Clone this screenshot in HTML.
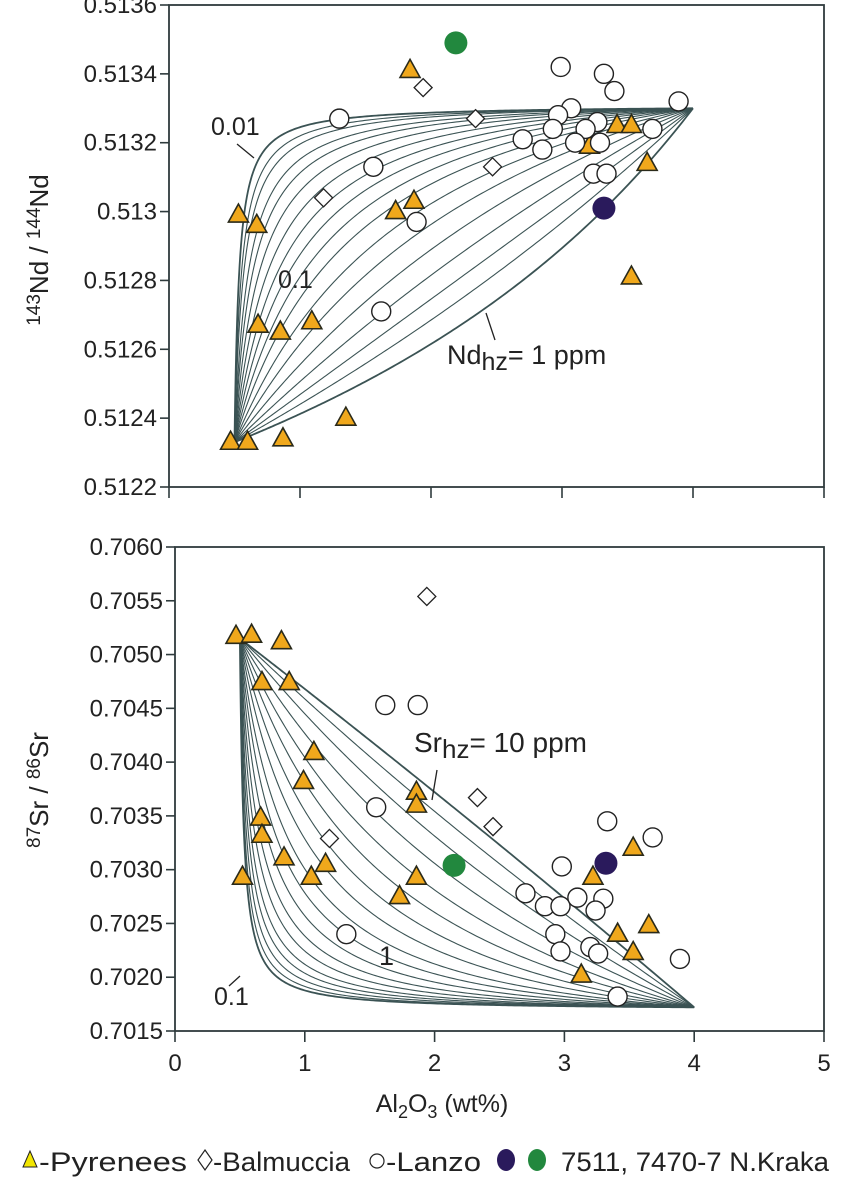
<!DOCTYPE html>
<html><head><meta charset="utf-8"><style>
html,body{margin:0;padding:0;background:#fff}
svg{display:block;font-family:"Liberation Sans",sans-serif}
</style></head><body>
<svg id="chart" width="861" height="1182" viewBox="0 0 861 1182" xmlns="http://www.w3.org/2000/svg"></svg>
<script>
// ---- data: top panel (143Nd/144Nd vs Al2O3) ----
const ndPyrX=[1.84,0.53,0.67,0.68,0.85,1.09,1.73,1.87,0.47,0.60,0.87,1.35,3.42,3.53,3.21,3.65,3.53];
const ndPyrY=[0.51341,0.51299,0.51296,0.51267,0.51265,0.51268,0.51300,0.51303,0.51233,0.51233,0.51234,0.51240,0.51325,0.51325,0.51319,0.51314,0.51281];
const ndBalX=[1.94,2.34,2.47,1.18];
const ndBalY=[0.51336,0.51327,0.51313,0.51304];
const ndLanX=[1.30,1.56,1.89,1.62,2.99,3.32,3.40,3.07,2.97,3.27,2.93,3.18,2.70,2.85,3.10,3.29,3.24,3.34,3.69,3.89];
const ndLanY=[0.51327,0.51313,0.51297,0.51271,0.51342,0.51340,0.51335,0.51330,0.51328,0.51326,0.51324,0.51324,0.51321,0.51318,0.51320,0.51320,0.51311,0.51311,0.51324,0.51332];
const ndKrakaX=[3.32,2.19];
const ndKrakaY=[0.51301,0.51349];
const ndEndA=[0.5,0.51233], ndEndB=[4,0.51330];
const ndRatios=[0.01,0.015,0.02,0.03,0.04,0.055,0.075,0.1,0.13,0.17,0.22,0.3,0.4,0.55,0.75,1.0,1.3,1.8];
const ndTicks=[0.5136,0.5134,0.5132,0.513,0.5128,0.5126,0.5124,0.5122];
const ndTickLabels=["0.5136","0.5134","0.5132","0.513","0.5128","0.5126","0.5124","0.5122"];
// ---- data: bottom panel (87Sr/86Sr vs Al2O3) ----
const srPyrX=[0.47,0.59,0.82,0.67,0.88,1.07,0.99,0.66,0.67,0.84,1.16,0.52,1.05,1.86,1.86,1.86,1.73,3.53,3.22,3.65,3.41,3.53,3.13];
const srPyrY=[0.70517,0.70518,0.70512,0.70474,0.70474,0.70409,0.70382,0.70348,0.70332,0.70311,0.70305,0.70293,0.70293,0.70372,0.70360,0.70293,0.70275,0.70320,0.70293,0.70248,0.70240,0.70223,0.70202];
const srBalX=[1.94,1.19,2.33,2.45];
const srBalY=[0.70554,0.70329,0.70367,0.70340];
const srLanX=[1.62,1.87,1.55,1.32,3.33,3.68,2.98,2.70,2.85,2.97,3.10,3.30,3.24,2.93,2.97,3.20,3.26,3.89,3.41];
const srLanY=[0.70453,0.70453,0.70358,0.70240,0.70345,0.70330,0.70303,0.70278,0.70266,0.70266,0.70274,0.70273,0.70262,0.70240,0.70224,0.70228,0.70222,0.70217,0.70182];
const srKrakaX=[3.32,2.15];
const srKrakaY=[0.70306,0.70304];
const srEndA=[0.5,0.70515], srEndB=[4,0.70172];
const srRatios=[0.008,0.01,0.013,0.017,0.022,0.03,0.04,0.055,0.075,0.1,0.14,0.19,0.26,0.35,0.48,0.65,0.85,1.05];
const srTicks=[0.706,0.7055,0.705,0.7045,0.704,0.7035,0.703,0.7025,0.702,0.7015];
const srTickLabels=["0.7060","0.7055","0.7050","0.7045","0.7040","0.7035","0.7030","0.7025","0.7020","0.7015"];
const xTicks=[0,1,2,3,4,5];
const xTickLabels=["0","1","2","3","4","5"];

const NS="http://www.w3.org/2000/svg";
const svg=document.getElementById('chart');
function mk(tag,attrs,parent){const e=document.createElementNS(NS,tag);for(const k in attrs)e.setAttribute(k,attrs[k]);(parent||svg).appendChild(e);return e;}

function panel(cfg){
  const g=mk('g',{});
  
  
  const sx=v=>cfg.x0+(v-0)/5*(cfg.x1-cfg.x0);
  const sy=v=>cfg.y0+(cfg.ymax-v)/(cfg.ymax-cfg.ymin)*(cfg.y1-cfg.y0);
  const cg=mk('g',{},g);
  
  
  cfg.ratios.forEach(r=>{
    let d='';
    for(let i=0;i<=200;i++){
      const f=Math.pow(i/200,1.6);
      const x=cfg.A[0]+f*(cfg.B[0]-cfg.A[0]);
      const w=f/(f+(1-f)*r);
      const y=cfg.A[1]+w*(cfg.B[1]-cfg.A[1]);
      d+=(i?'L':'M')+sx(x).toFixed(2)+','+sy(y).toFixed(2);
    }
    const p=mk('path',{d:d,fill:'none',stroke:'#3b5354','stroke-width':(r===cfg.ratios[0]||r===cfg.ratios[cfg.ratios.length-1])?1.8:1.1},cg);
    
    
  });
  const fr=mk('rect',{x:cfg.x0,y:cfg.y0,width:cfg.x1-cfg.x0,height:cfg.y1-cfg.y0,fill:'none',stroke:'#2f3b3d','stroke-width':1.8},g);
  
  
  cfg.yt.forEach((v,i)=>{
    const y=sy(v);
    const t=mk('line',{x1:cfg.x0-9,x2:cfg.x0,y1:y,y2:y,stroke:'#2f3b3d','stroke-width':1.6},g);
    
    
    const l=mk('text',{x:cfg.x0-12,y:y+8,'text-anchor':'end','font-size':24,fill:'#222'},g);
    l.textContent=cfg.ytl[i];
    
    
  });
  xTicks.forEach((v,i)=>{
    const x=sx(v);
    const t=mk('line',{x1:x,x2:x,y1:cfg.y1,y2:cfg.y1+11,stroke:'#2f3b3d','stroke-width':1.6},g);
    
    
    if(cfg.xlabels){
      const l=mk('text',{x:x,y:cfg.y1+40,'text-anchor':'middle','font-size':24,fill:'#222'},g);
      l.textContent=xTickLabels[i];
      
      
    }
  });
  const tri=(xs,ys)=>xs.forEach((v,i)=>{const x=sx(v),y=sy(ys[i]);
    const p=mk('polygon',{points:`${x},${y-11} ${x-10},${y+7} ${x+10},${y+7}`,fill:'#f0a81c',stroke:'#2a2a1a','stroke-width':1.6},g);
    
    });
  const dia=(xs,ys)=>xs.forEach((v,i)=>{const x=sx(v),y=sy(ys[i]);
    const p=mk('polygon',{points:`${x},${y-9} ${x+9},${y} ${x},${y+9} ${x-9},${y}`,fill:'#fff',stroke:'#222','stroke-width':1.3},g);
    
    });
  const cir=(xs,ys)=>xs.forEach((v,i)=>{
    const p=mk('circle',{cx:sx(v),cy:sy(ys[i]),r:9.5,fill:'#fff',stroke:'#222','stroke-width':1.4},g);
    
    });
  tri(cfg.pyrX,cfg.pyrY); dia(cfg.balX,cfg.balY); cir(cfg.lanX,cfg.lanY);
  const kc=['#2a1a5c','#22883e'];
  cfg.krX.forEach((v,i)=>{
    const p=mk('circle',{cx:sx(v),cy:sy(cfg.krY[i]),r:11.5,fill:kc[i]},g);
    
    
  });
  return g;
}
panel({name:'nd-panel',x0:169,x1:824,y0:5,y1:487,ymax:0.5136,ymin:0.5122,A:ndEndA,B:ndEndB,ratios:ndRatios,yt:ndTicks,ytl:ndTickLabels,xlabels:false,
  pyrX:ndPyrX,pyrY:ndPyrY,balX:ndBalX,balY:ndBalY,lanX:ndLanX,lanY:ndLanY,krX:ndKrakaX,krY:ndKrakaY});
panel({name:'sr-panel',x0:175,x1:824,y0:547,y1:1031,ymax:0.706,ymin:0.7015,A:srEndA,B:srEndB,ratios:srRatios,yt:srTicks,ytl:srTickLabels,xlabels:true,
  pyrX:srPyrX,pyrY:srPyrY,balX:srBalX,balY:srBalY,lanX:srLanX,lanY:srLanY,krX:srKrakaX,krY:srKrakaY});
</script>
<div style="position:absolute;left:0;top:0;width:861px;height:1182px;pointer-events:none">
<svg width="861" height="1182" xmlns="http://www.w3.org/2000/svg" style="position:absolute;left:0;top:0">
  <g font-family="Liberation Sans, sans-serif" fill="#222">
    <text x="211" y="135" font-size="25">0.01</text>
    <line x1="237" y1="144" x2="254" y2="158" stroke="#222" stroke-width="1.3"/>
    <text x="278" y="288" font-size="25">0.1</text>
    <line x1="495" y1="340" x2="486" y2="313" stroke="#222" stroke-width="1.3"/>
    <text x="447" y="364" font-size="27">Nd<tspan font-size="25" dy="6">hz</tspan><tspan dy="-6">= 1 ppm</tspan></text>
    <text x="414" y="752" font-size="28">Sr<tspan font-size="26" dy="6">hz</tspan><tspan dy="-6">= 10 ppm</tspan></text>
    <line x1="437" y1="770" x2="432" y2="800" stroke="#222" stroke-width="1.3"/>
    <text x="379" y="965" font-size="27">1</text>
    <text x="214" y="1005" font-size="25">0.1</text>
    <line x1="229" y1="986" x2="240" y2="976" stroke="#222" stroke-width="1.3"/>
    <text transform="translate(48,250) rotate(-90)" text-anchor="middle" font-size="26"><tspan font-size="19" dy="-8">143</tspan><tspan dy="8">Nd / </tspan><tspan font-size="19" dy="-8">144</tspan><tspan dy="8">Nd</tspan></text>
    <text transform="translate(48,790) rotate(-90)" text-anchor="middle" font-size="26"><tspan font-size="19" dy="-8">87</tspan><tspan dy="8">Sr / </tspan><tspan font-size="19" dy="-8">86</tspan><tspan dy="8">Sr</tspan></text>
    <text x="442" y="1112" text-anchor="middle" font-size="25">Al<tspan font-size="18" dy="6">2</tspan><tspan dy="-6">O</tspan><tspan font-size="18" dy="6">3</tspan><tspan dy="-6"> (wt%)</tspan></text>
  </g>
  <g font-family="Liberation Sans, sans-serif" font-size="27" fill="#222">
    <polygon points="30,1151 23,1167 37,1167" fill="#f2e600" stroke="#222" stroke-width="1"/>
    <text x="39" y="1171" textLength="148" lengthAdjust="spacingAndGlyphs">-Pyrenees</text>
    <polygon points="205,1150 212,1160 205,1170 198,1160" fill="#fff" stroke="#222" stroke-width="1.2"/>
    <text x="213" y="1171" textLength="137" lengthAdjust="spacingAndGlyphs">-Balmuccia</text>
    <circle cx="377" cy="1161" r="7" fill="#fff" stroke="#222" stroke-width="1.2"/>
    <text x="386" y="1171" textLength="95" lengthAdjust="spacingAndGlyphs">-Lanzo</text>
    <ellipse cx="506" cy="1160" rx="9" ry="11" fill="#2a1a5c"/>
    <ellipse cx="537" cy="1160" rx="9" ry="11" fill="#22883e"/>
    <text x="561" y="1171" textLength="268" lengthAdjust="spacingAndGlyphs">7511, 7470-7 N.Kraka</text>
  </g>
</svg>
</div>
</body></html>
